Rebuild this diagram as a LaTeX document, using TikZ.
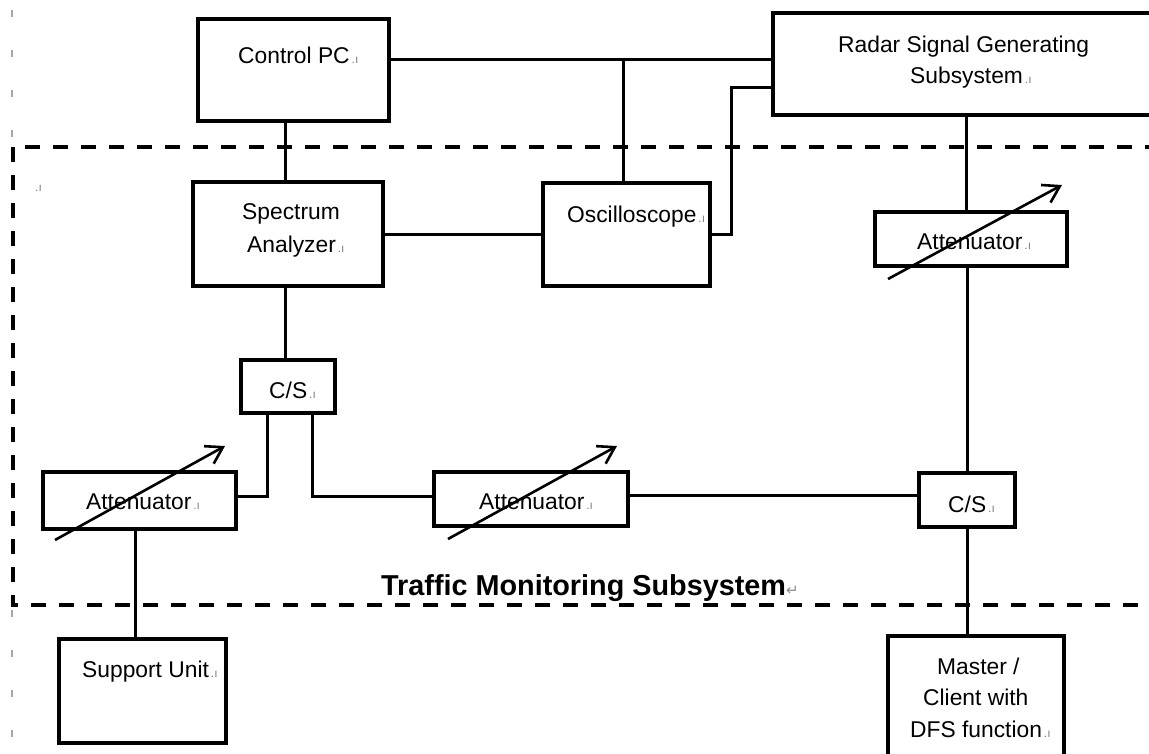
\documentclass[tikz,border=0pt]{standalone}
\usepackage{fontspec}
\setmainfont{Liberation Sans}
\newfontfamily\djv{DejaVu Sans}
\usetikzlibrary{arrows.meta}
\newcommand\pmk{{\fontsize{12}{12}\selectfont\color{black!50}\,.ı}}
\begin{document}
\begin{tikzpicture}[x=1pt,y=-1pt,
  box/.style={draw, line width=3.3pt, rectangle, inner sep=0pt},
  lbl/.style={anchor=base west, inner sep=0pt, font=\fontsize{22.8}{22.8}\selectfont},
  link/.style={line width=3pt},
  varr/.style={line width=2.6pt, -{Straight Barb[length=16pt,width=20pt]}},
  frame/.style={line width=3.2pt, dash pattern=on 15pt off 13pt},
  tick/.style={line width=1.5pt, black!35, dash pattern=on 7pt off 33pt}]
\useasboundingbox (0,0) rectangle (1149,753);

% boxes
\node[box, minimum width=191pt, minimum height=102pt] (pc) at (293.5,70) {};
\node[box, minimum width=387pt, minimum height=102pt] (radar) at (966.5,64) {};
\node[box, minimum width=190pt, minimum height=104pt] (sa) at (288,234) {};
\node[box, minimum width=167pt, minimum height=103pt] (osc) at (626.5,234.5) {};
\node[box, minimum width=192pt, minimum height=54pt] (attR) at (971,239) {};
\node[box, minimum width=96pt, minimum height=54pt] (csR) at (967,500) {};
\node[box, minimum width=176pt, minimum height=134pt] (master) at (976,703) {};
\node[box, minimum width=94pt, minimum height=53pt] (csL) at (288,386.5) {};
\node[box, minimum width=193pt, minimum height=57pt] (attL) at (139.5,500.5) {};
\node[box, minimum width=194pt, minimum height=54pt] (attM) at (531,499) {};
\node[box, minimum width=167pt, minimum height=104pt] (sup) at (142.5,691) {};

% labels
\node[lbl] (pc-t) at (238,63) {Control PC\pmk};
\node[lbl] (radar-t1) at (838,52) {Radar Signal Generating};
\node[lbl] (radar-t2) at (910,83) {Subsystem\pmk};
\node[lbl] (sa-t1) at (242,219) {Spectrum};
\node[lbl] (sa-t2) at (247,252) {Analyzer\pmk};
\node[lbl] (osc-t) at (567,222) {Oscilloscope\pmk};
\node[lbl] (attR-t) at (917,249) {Attenuator\pmk};
\node[lbl] (attL-t) at (86,509) {Attenuator\pmk};
\node[lbl] (attM-t) at (479,509) {Attenuator\pmk};
\node[lbl] (csL-t) at (269,398) {C/S\pmk};
\node[lbl] (csR-t) at (948,512) {C/S\pmk};
\node[lbl] (sup-t) at (82,677) {Support Unit\pmk};
\node[lbl] (master-t1) at (937,674) {Master /};
\node[lbl] (master-t2) at (923,705) {Client with};
\node[lbl] (master-t3) at (910,737) {DFS function\pmk};
\node[anchor=base west, inner sep=0pt] (pm) at (33,191) {\pmk};
\node[anchor=base west, inner sep=0pt, font=\bfseries\fontsize{28.8}{28.8}\selectfont] (tms) at (381,595)
  {Traffic Monitoring Subsystem{\djv\mdseries\fontsize{15}{15}\selectfont\color{black!45}↵}};

% traffic monitoring frame
\draw[frame] (25,147) -- (1160,147);
\draw[frame] (13,147) -- (13,605) -- (1160,605);
\draw[tick] (12,10) -- (12,140);
\draw[tick] (12,610) -- (12,753);

% connectors
\draw[link] ([xshift=-8.5pt]pc.south) -- ([xshift=-8.5pt]pc.south |- sa.north);
\draw[link] ([yshift=11pt]pc.east) -- ([yshift=11pt]pc.east -| radar.west);
\coordinate (j1) at (623,59);
\draw[link] (j1) -- (j1 |- osc.north);
\draw[link] ([yshift=-23pt]radar.west) -- ++(-40,0) |- (osc.east);
\draw[link] (sa.east) -- (sa.east -| osc.west);
\draw[link] (radar.south) -- (radar.south |- attR.north);
\draw[link] (csR.north |- attR.south) -- (csR.north);
\draw[link] ([yshift=4pt]attM.east) -- ([yshift=4pt]attM.east -| csR.west);
\draw[link] (csR.south) -- (csR.south |- master.north);
\draw[link] ([xshift=-3pt]sa.south) -- ([xshift=-3pt]sa.south |- csL.north);
\draw[link] ([xshift=-21pt]csL.south) |- ([yshift=4.5pt]attL.east);
\draw[link] ([xshift=24pt]csL.south) |- ([yshift=3pt]attM.west);
\draw[link] ([xshift=-4.5pt]attL.south) -- ([xshift=-4.5pt]attL.south |- sup.north);

% variable attenuator arrows
\draw[varr] ([shift={(-84.5,39.5)}]attL.center) -- ([shift={(85.5,-54.5)}]attL.center);
\draw[varr] ([shift={(-83,40)}]attM.center) -- ([shift={(86,-53)}]attM.center);
\draw[varr] ([shift={(-83,40)}]attR.center) -- ([shift={(91,-54)}]attR.center);
\end{tikzpicture}
\end{document}
